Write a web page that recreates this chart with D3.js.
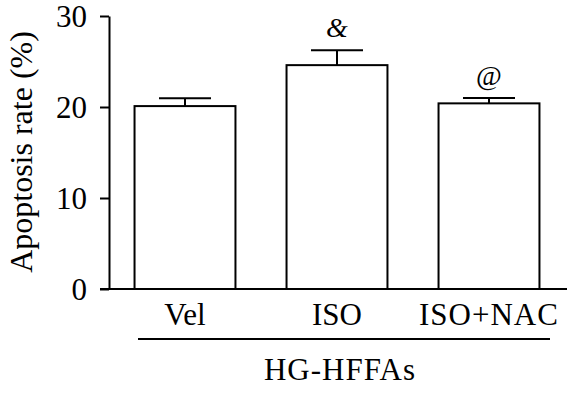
<!DOCTYPE html>
<html>
<head>
<meta charset="utf-8">
<script src="https://cdn.jsdelivr.net/npm/d3@7"></script>
<style>
  body { margin: 0; background: #fff; }
  svg { display: block; }
  svg text { font-family: 'Liberation Serif', Tinos, 'Times New Roman', Times, 'DejaVu Serif', serif; fill: #000; }
</style>
</head>
<body>
<div id="chart"></div>
<script>
var w = 567;
var h = 393;
var serif = "'Liberation Serif', Tinos, 'Times New Roman', Times, 'DejaVu Serif', serif";

// data
var groups = ["Vel", "ISO", "ISO+NAC"];
var means = [20.1, 24.6, 20.4];
var errors = [0.85, 1.65, 0.6];
var marks = ["", "&", "@"];
var yTicks = [0, 10, 20, 30];
var groupLabel = "HG-HFFAs";
var yLabel = "Apoptosis rate (%)";

var svg = d3.select("#chart")
  .append("svg")
  .attr("width", w)
  .attr("height", h)
  .attr("font-family", serif);

var xScale = d3.scaleBand()
  .domain(groups)
  .range([109, 565])
  .paddingInner(0.336)
  .paddingOuter(0.168);

var yScale = d3.scaleLinear()
  .domain([0, 30])
  .range([289, 16]);

// y axis
var yAxis = d3.axisLeft(yScale)
  .tickValues(yTicks)
  .tickSize(9)
  .tickPadding(13)
  .tickSizeOuter(0);

var gy = svg.append("g")
  .attr("transform", "translate(109,0)")
  .call(yAxis)
  .attr("font-family", serif)
  .attr("font-size", 31);
gy.select(".domain").attr("stroke", "#000").attr("stroke-width", 2);
gy.selectAll(".tick line").attr("stroke", "#000").attr("stroke-width", 2);
gy.selectAll(".tick text")
  .attr("dy", "0.34em")
  .attr("font-family", serif);

// baseline
svg.append("line")
  .attr("x1", 100)
  .attr("x2", w)
  .attr("y1", yScale(0))
  .attr("y2", yScale(0))
  .attr("stroke", "#000")
  .attr("stroke-width", 2);

var data = groups.map(function(g, i) {
  return { group: g, mean: means[i], err: errors[i], mark: marks[i] };
});

var cx = function(d) { return xScale(d.group) + xScale.bandwidth() / 2; };

// error bars (upper only)
var capW = 52;
svg.selectAll("line.stem")
  .data(data)
  .enter()
  .append("line")
  .attr("class", "stem")
  .attr("x1", cx)
  .attr("x2", cx)
  .attr("y1", function(d) { return yScale(d.mean); })
  .attr("y2", function(d) { return yScale(d.mean + d.err); })
  .attr("stroke", "#000")
  .attr("stroke-width", 2);

svg.selectAll("line.cap")
  .data(data)
  .enter()
  .append("line")
  .attr("class", "cap")
  .attr("x1", function(d) { return cx(d) - capW / 2; })
  .attr("x2", function(d) { return cx(d) + capW / 2; })
  .attr("y1", function(d) { return yScale(d.mean + d.err); })
  .attr("y2", function(d) { return yScale(d.mean + d.err); })
  .attr("stroke", "#000")
  .attr("stroke-width", 2);

// bars
svg.selectAll("rect.bar")
  .data(data)
  .enter()
  .append("rect")
  .attr("class", "bar")
  .attr("x", function(d) { return xScale(d.group); })
  .attr("y", function(d) { return yScale(d.mean); })
  .attr("width", xScale.bandwidth())
  .attr("height", function(d) { return yScale(0) - yScale(d.mean); })
  .attr("fill", "#fff")
  .attr("stroke", "#000")
  .attr("stroke-width", 2);

// significance marks
svg.selectAll("text.mark")
  .data(data)
  .enter()
  .append("text")
  .attr("class", "mark")
  .attr("x", cx)
  .attr("y", function(d) { return yScale(d.mean + d.err) - 13; })
  .attr("text-anchor", "middle")
  .attr("font-size", 28)
  .attr("font-style", function(d) { return d.mark === "&" ? "italic" : "normal"; })
  .text(function(d) { return d.mark; });

// category labels
svg.selectAll("text.cat")
  .data(groups)
  .enter()
  .append("text")
  .attr("class", "cat")
  .attr("x", function(d) { return xScale(d) + xScale.bandwidth() / 2; })
  .attr("y", 325)
  .attr("text-anchor", "middle")
  .attr("font-size", 31)
  .attr("letter-spacing", function(d) { return d.length > 3 ? 1 : 0; })
  .text(function(d) { return d; });

// group bracket line
svg.append("line")
  .attr("x1", 138)
  .attr("x2", 550)
  .attr("y1", 339)
  .attr("y2", 339)
  .attr("stroke", "#000")
  .attr("stroke-width", 2);

svg.append("text")
  .attr("x", 340)
  .attr("y", 380)
  .attr("text-anchor", "middle")
  .attr("font-size", 31)
  .attr("letter-spacing", 1)
  .text(groupLabel);

// y label
svg.append("text")
  .attr("transform", "translate(32,152) rotate(-90)")
  .attr("text-anchor", "middle")
  .attr("font-size", 32)
  .text(yLabel);
</script>
</body>
</html>
